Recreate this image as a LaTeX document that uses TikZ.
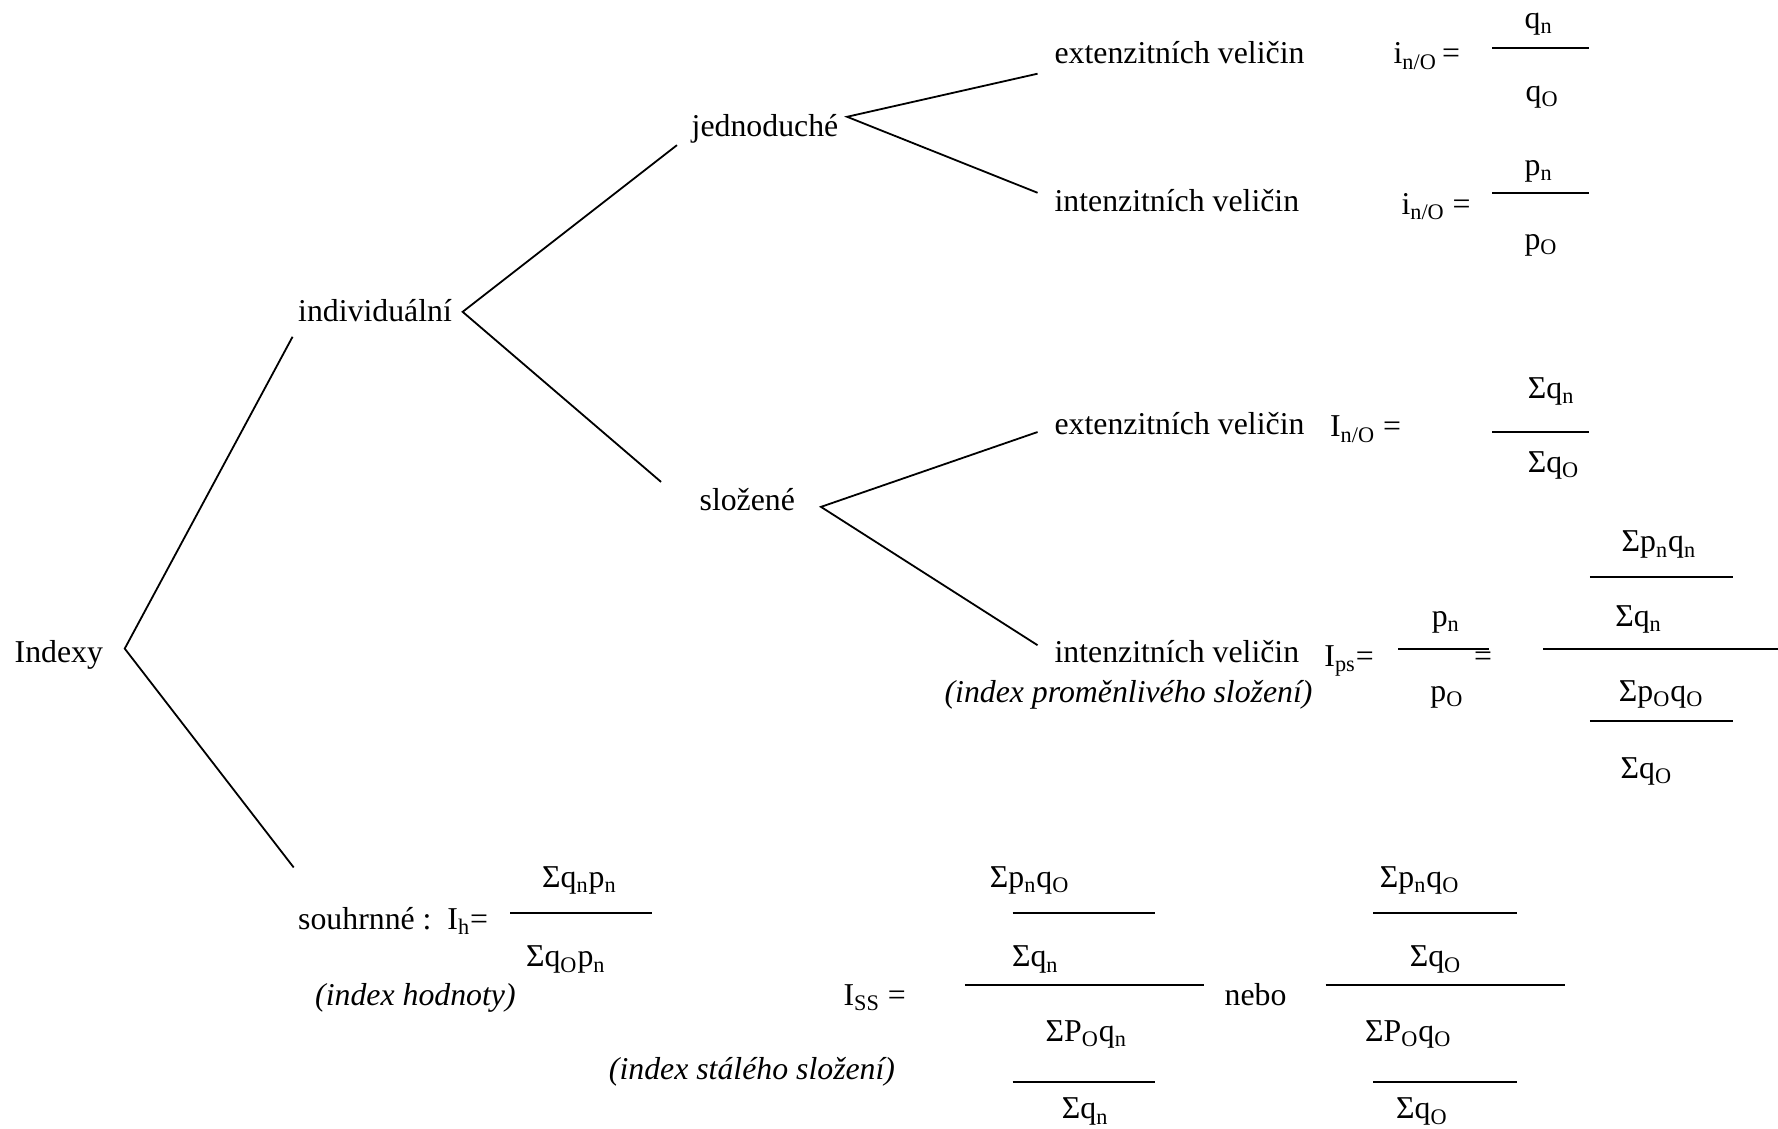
\documentclass[tikz,border=0pt]{standalone}
\usepackage{fontspec}
\setmainfont{Liberation Serif}
% lowered small index letters
\newcommand\lw[1]{\textsubscript{#1}}
\begin{document}
\begin{tikzpicture}[x=0.567pt,y=-0.567pt,
  every node/.style={inner sep=0pt,outer sep=0pt,font=\fontsize{15.9}{19}\selectfont},
  txt/.style={anchor=mid west,yshift=-3pt},
  mtx/.style={anchor=mid,yshift=-1.5pt},
  note/.style={anchor=mid west,yshift=-3pt,font=\fontsize{15.9}{19}\selectfont\itshape},
  branch/.style={line width=0.9pt},
  bar/.style={line width=1.1pt}]
\useasboundingbox (0,0) rectangle (1568,995);

% ---- tree labels
\node[txt] (idx) at (13,575) {Indexy};
\node[txt] (ind) at (263,274) {individuální};
\node[txt] (jed) at (610,111) {jednoduché};
\node[txt] (slo) at (617,441) {složené};
\node[txt] (sou) at (263,810) {souhrnné :\ \ I\lw{h}=};
\node[txt] (ext1) at (930,47) {extenzitních veličin};
\node[txt] (int1) at (930,177) {intenzitních veličin};
\node[txt] (ext2) at (930,374) {extenzitních veličin};
\node[txt] (int2) at (930,575) {intenzitních veličin};
\node[note] (ips) at (833,610) {(index proměnlivého složení)};
\node[note] (ih) at (278,877) {(index hodnoty)};
\node[note] (iss) at (537,943) {(index stálého složení)};

% ---- branching points and branch ends
\coordinate (idx-v) at (110,572);
\coordinate (ind-v) at (408,275);
\coordinate (jed-v) at (747,103);
\coordinate (slo-v) at (724,447);
\coordinate (ind-e) at (258,297);
\coordinate (sou-e) at (259,765);
\coordinate (jed-e) at (597,128);
\coordinate (slo-e) at (583,425);
\coordinate (ext1-e) at (915,65);
\coordinate (int1-e) at (915,170);
\coordinate (ext2-e) at (915,381);
\coordinate (int2-e) at (915,569);

\draw[branch] (ind-e) -- (idx-v) -- (sou-e);
\draw[branch] (jed-e) -- (ind-v) -- (slo-e);
\draw[branch] (ext1-e) -- (jed-v) -- (int1-e);
\draw[branch] (ext2-e) -- (slo-v) -- (int2-e);

% ---- simple indices
\node[txt] (f1) at (1229,47) {i\lw{n/O}\,=};
\draw[bar] (1316,42) -- (1401,42);
\node[mtx] (f1n) at (1357,18) {q\lw{n}};
\node[mtx] (f1d) at (1360,83) {q\lw{O}};

\node[txt] (f2) at (1236,180) {i\lw{n/O} =};
\draw[bar] (1316,170) -- (1401,170);
\node[mtx] (f2n) at (1357,148) {p\lw{n}};
\node[mtx] (f2d) at (1359,213) {p\lw{O}};

% ---- composite, extensive
\node[txt] (f3) at (1173,376) {I\lw{n/O} =};
\draw[bar] (1316,381) -- (1401,381);
\node[mtx] (f3n) at (1368,345) {Σq\lw{n}};
\node[mtx] (f3d) at (1370,410) {Σq\lw{O}};

% ---- composite, intensive
\node[txt] (f4) at (1168,578) {I\lw{ps}=};
\draw[bar] (1233,572) -- (1313,572);
\node[mtx] (f4n) at (1275,546) {p\lw{n}};
\node[mtx] (f4d) at (1276,612) {p\lw{O}};
\node[txt] (f4eq) at (1300,578.5) {=};
\draw[bar] (1361,572) -- (1568,572);
\node[mtx] (f5a) at (1463,480) {Σp\lw{n}q\lw{n}};
\draw[bar] (1402,509) -- (1528,509);
\node[mtx] (f5b) at (1445,546) {Σq\lw{n}};
\node[mtx] (f5c) at (1465,612) {Σp\lw{O}q\lw{O}};
\draw[bar] (1402,636) -- (1528,636);
\node[mtx] (f5d) at (1452,680) {Σq\lw{O}};

% ---- value index
\draw[bar] (450,805) -- (575,805);
\node[mtx] (hn) at (511,776) {Σq\lw{n}p\lw{n}};
\node[mtx] (hd) at (499,846) {Σq\lw{O}p\lw{n}};

% ---- fixed composition index
\node[txt] (sseq) at (744,877) {I\lw{SS} =};
\draw[bar] (851,869) -- (1062,869);
\node[mtx] (sa) at (908,776) {Σp\lw{n}q\lw{O}};
\draw[bar] (893,805) -- (1019,805);
\node[mtx] (sb) at (913,846) {Σq\lw{n}};
\node[mtx] (sc) at (958,912) {ΣP\lw{O}q\lw{n}};
\draw[bar] (893,954) -- (1019,954);
\node[mtx] (sd) at (957,980) {Σq\lw{n}};

\node[txt] (nebo) at (1080,877) {nebo};

\draw[bar] (1169,869) -- (1380,869);
\node[mtx] (ta) at (1252,776) {Σp\lw{n}q\lw{O}};
\draw[bar] (1211,805) -- (1338,805);
\node[mtx] (tb) at (1266,846) {Σq\lw{O}};
\node[mtx] (tc) at (1242,912) {ΣP\lw{O}q\lw{O}};
\draw[bar] (1211,954) -- (1338,954);
\node[mtx] (td) at (1254,980) {Σq\lw{O}};
\end{tikzpicture}
\end{document}
